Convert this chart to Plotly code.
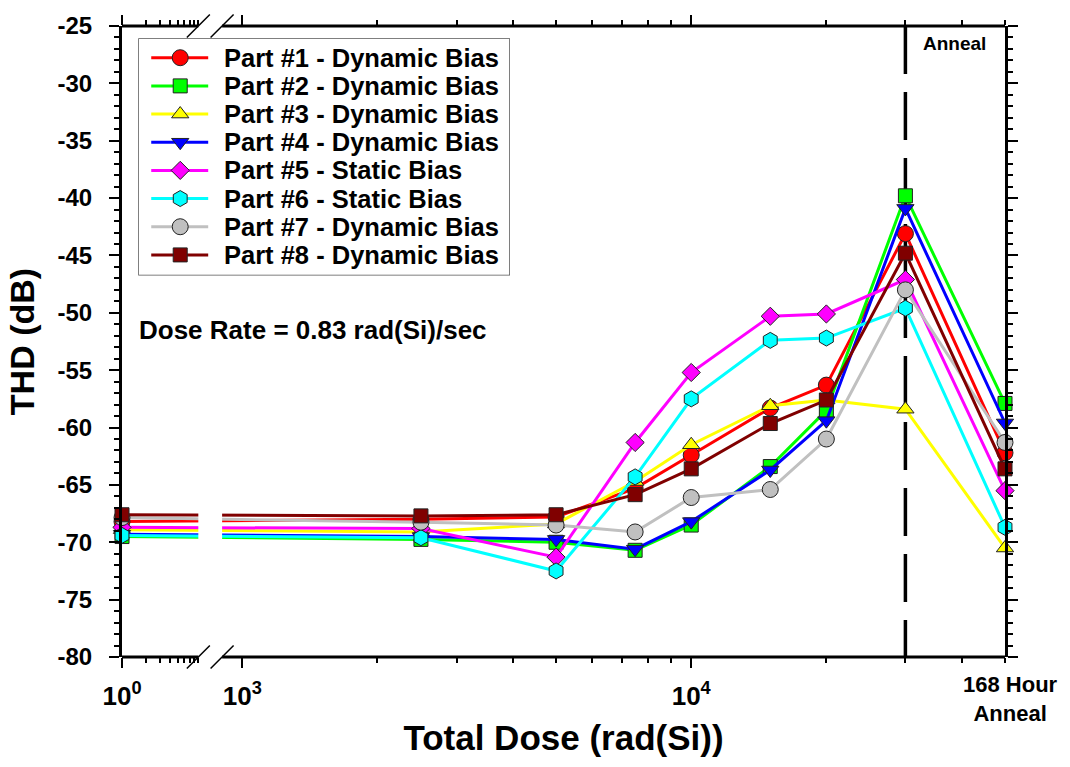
import numpy as np
import plotly.graph_objects as go

# ---------------- data ----------------
# Total dose in rad(Si); the last point is the 168 hour anneal (plotted at the right edge)
DOSE = [1, 2500, 5000, 7500, 10000, 15000, 20000, 30000, 50000]

PART1 = [-68.2, -68.0, -67.8, -65.3, -62.4, -58.3, -56.3, -43.1, -62.2]
PART2 = [-69.5, -69.75, -70.0, -70.7, -68.5, -63.4, -58.5, -39.8, -57.9]
PART3 = [-68.9, -69.1, -68.4, -64.7, -61.5, -58.1, -57.6, -58.4, -70.5]
PART4 = [-69.3, -69.5, -69.75, -70.6, -68.2, -63.7, -59.4, -40.9, -59.6]
PART5 = [-68.7, -68.8, -71.3, -61.3, -55.2, -50.3, -50.1, -47.1, -65.5]
PART6 = [-69.4, -69.6, -72.5, -64.3, -57.5, -52.4, -52.2, -49.6, -68.7]
PART7 = [-67.85, -68.25, -68.5, -69.1, -66.1, -65.4, -61.0, -48.0, -61.3]
PART8 = [-67.6, -67.7, -67.6, -65.85, -63.6, -59.65, -57.6, -44.8, -63.6]

SERIES = [PART1, PART2, PART3, PART4, PART5, PART6, PART7, PART8]
NAMES = ["Part #1 - Dynamic Bias", "Part #2 - Dynamic Bias", "Part #3 - Dynamic Bias",
         "Part #4 - Dynamic Bias", "Part #5 - Static Bias", "Part #6 - Static Bias",
         "Part #7 - Dynamic Bias", "Part #8 - Dynamic Bias"]
COLORS = ["#FF0000", "#00FF00", "#FFFF00", "#0000FF", "#FF00FF", "#00FFFF", "#C0C0C0", "#800000"]
SYMBOLS = ["circle", "square", "triangle-up", "triangle-down", "diamond", "hexagon", "circle", "square"]
SIZES = [16, 14, 15, 15, 14, 16, 16, 14]

Y_TICKS = [-80, -75, -70, -65, -60, -55, -50, -45, -40, -35, -30, -25]
Y_TICKTEXT = ["-80", "-75", "-70", "-65", "-60", "-55", "-50", "-45", "-40", "-35", "-30", "-25"]

X_MAJOR = [1, 1000, 10000]
X_MAJOR_TEXT = ["10<sup>0</sup>", "10<sup>3</sup>", "10<sup>4</sup>"]
X_MINOR = [2, 3, 4, 5, 6, 7, 8, 9, 2000, 3000, 4000, 5000, 6000, 7000, 8000, 9000,
           20000, 30000, 40000, 50000]

ANNEAL_DOSE = 30000

# ---------------- broken log axis ----------------
U0 = 2.732          # axis position of 10^0
LEFT_SCALE = 0.178  # compressed first decade
BREAK_LO, BREAK_HI = 2.902, 2.955
X_MAX = np.log10(50000)


def xpos(d):
    d = np.asarray(d, dtype=float)
    return np.where(d < 100, U0 + np.log10(d) * LEFT_SCALE, np.log10(d))


FONT = "Liberation Sans, Arial, Helvetica, sans-serif"

fig = go.Figure()

for ys, name, col, sym, sz in zip(SERIES, NAMES, COLORS, SYMBOLS, SIZES):
    fig.add_trace(go.Scatter(
        x=xpos(DOSE), y=ys, mode="lines+markers", name=name,
        line=dict(color=col, width=3),
        marker=dict(symbol=sym, size=sz, color=col, line=dict(color="#222222", width=1)),
        cliponaxis=False, showlegend=False, xaxis="x", yaxis="y"))

# ---------------- custom legend (own small axes) ----------------
LEG_W, LEG_H = 372, 239
LEG_ROW0, LEG_STEP = 19.5, 28.4
LEG_LINE = [13, 70]
LEG_MARK = 42
LEG_TEXT = 84

for i, (name, col, sym, sz) in enumerate(zip(NAMES, COLORS, SYMBOLS, SIZES)):
    ry = LEG_ROW0 + LEG_STEP * i
    fig.add_trace(go.Scatter(x=LEG_LINE, y=[ry, ry], mode="lines", line=dict(color=col, width=3),
                             showlegend=False, hoverinfo="skip", xaxis="x2", yaxis="y2"))
    fig.add_trace(go.Scatter(x=[LEG_MARK], y=[ry], mode="markers",
                             marker=dict(symbol=sym, size=sz, color=col, line=dict(color="#222222", width=1)),
                             showlegend=False, hoverinfo="skip", xaxis="x2", yaxis="y2"))
    fig.add_annotation(x=LEG_TEXT, y=ry, xref="x2", yref="y2", text=name, showarrow=False,
                       xanchor="left", yanchor="middle",
                       font=dict(family=FONT, size=25.5, color="black", weight="bold"))

shapes = []
# legend frame
shapes.append(dict(type="rect", xref="x2", yref="y2", x0=0, x1=LEG_W, y0=0, y1=LEG_H,
                   line=dict(color="#555555", width=1.5), fillcolor="rgba(0,0,0,0)", layer="below"))
# anneal dashed line
shapes.append(dict(type="line", xref="x", yref="paper", x0=float(xpos(ANNEAL_DOSE)), x1=float(xpos(ANNEAL_DOSE)),
                   y0=1, y1=0, line=dict(color="black", width=3.5, dash="48px,18px"), layer="below"))
# gap in the lines at the axis break
shapes.append(dict(type="rect", xref="x", yref="paper", x0=BREAK_LO, x1=BREAK_HI, y0=0.0, y1=0.5,
                   line=dict(width=0), fillcolor="white", layer="above"))
# broken x axis lines (bottom and top)
for yy in (0, 1):
    shapes.append(dict(type="line", xref="x", yref="paper", x0=U0, x1=BREAK_LO, y0=yy, y1=yy,
                       line=dict(color="black", width=3), layer="above"))
    shapes.append(dict(type="line", xref="x", yref="paper", x0=BREAK_HI, x1=X_MAX, y0=yy, y1=yy,
                       line=dict(color="black", width=3), layer="above"))
    for xa in (BREAK_LO, BREAK_HI):
        shapes.append(dict(type="line", xref="x", yref="paper", xsizemode="pixel", xanchor=xa,
                           x0=-11.5, x1=11.5, ysizemode="pixel", yanchor=yy, y0=-11.5, y1=11.5,
                           line=dict(color="black", width=1.5), layer="above"))

annotations = [
    dict(text="Dose Rate = 0.83 rad(Si)/sec", xref="paper", yref="paper", x=0.0173, y=0.518,
         xanchor="left", yanchor="middle", showarrow=False,
         font=dict(family=FONT, size=26, color="black", weight="bold")),
    dict(text="Anneal", xref="paper", yref="paper", x=0.9429, y=0.973, xanchor="center", yanchor="middle",
         showarrow=False, font=dict(family=FONT, size=19, color="black", weight="bold")),
    dict(text="168 Hour<br>Anneal", xref="paper", yref="paper", x=1.0057, y=-0.0665,
         xanchor="center", yanchor="middle", align="center",
         showarrow=False, font=dict(family=FONT, size=22, color="black", weight="bold")),
]
for a in annotations:
    fig.add_annotation(**a)

fig.update_layout(
    width=1070, height=767,
    margin=dict(l=122, r=64.5, t=20.5, b=110),
    paper_bgcolor="white", plot_bgcolor="rgba(0,0,0,0)",
    font=dict(family=FONT, color="black"),
    showlegend=False,
    shapes=shapes,
    xaxis=dict(
        range=[U0, X_MAX], tickmode="array", tickvals=xpos(X_MAJOR).tolist(), ticktext=X_MAJOR_TEXT,
        ticks="outside", ticklen=10, tickwidth=2, tickcolor="black", showline=False, mirror="ticks",
        showgrid=False, zeroline=False, ticklabelstandoff=6,
        tickfont=dict(family=FONT, size=26, color="black", weight="bold"),
        minor=dict(tickmode="array", tickvals=xpos(X_MINOR).tolist(), ticks="outside", ticklen=5,
                   tickwidth=2, tickcolor="black", showgrid=False),
        title=dict(text="Total Dose (rad(Si))", standoff=15,
                   font=dict(family=FONT, size=35, color="black", weight="bold")),
    ),
    yaxis=dict(
        range=[-80, -25], tickmode="array", tickvals=Y_TICKS, ticktext=Y_TICKTEXT,
        ticks="outside", ticklen=10, tickwidth=2, tickcolor="black", showline=True, linewidth=3,
        linecolor="black", mirror="ticks", showgrid=False, zeroline=False, ticklabelstandoff=12,
        tickfont=dict(family=FONT, size=24, color="black", weight="bold"),
        minor=dict(tickmode="linear", tick0=-80, dtick=1, ticks="outside", ticklen=5,
                   tickwidth=2, tickcolor="black", showgrid=False),
        title=dict(text="THD (dB)", standoff=13,
                   font=dict(family=FONT, size=34, color="black", weight="bold")),
    ),
    xaxis2=dict(domain=[0.0184, 0.4394], range=[0, LEG_W], anchor="y2", visible=False, fixedrange=True),
    yaxis2=dict(domain=[0.6047, 0.9804], range=[LEG_H, 0], anchor="x2", visible=False, fixedrange=True),
)

fig.write_html("out.html")
